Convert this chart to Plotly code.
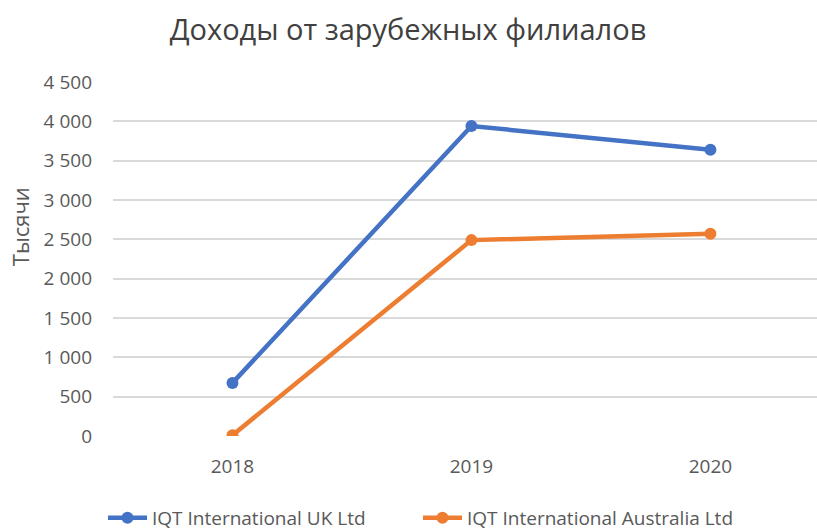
import plotly.graph_objects as go

years = ["2018", "2019", "2020"]
uk_values = [675, 3940, 3640]
au_values = [10, 2490, 2570]
series_names = ["IQT International UK Ltd", "IQT International Australia Ltd"]
title_text = "Доходы от зарубежных филиалов"
y_title = "Тысячи"

FONT = "Open Sans, sans-serif"
GREY = "#595959"

fig = go.Figure()
fig.add_trace(go.Scatter(x=years, y=uk_values, name=series_names[0], mode="lines+markers",
                         line=dict(color="#4472C4", width=4.5), marker=dict(size=12, color="#4472C4"),
                         legend="legend"))
fig.add_trace(go.Scatter(x=years, y=au_values, name=series_names[1], mode="lines+markers",
                         line=dict(color="#ED7D31", width=4.5), marker=dict(size=12, color="#ED7D31"),
                         legend="legend2"))

legend_common = dict(orientation="h", xref="container", yref="container",
                     xanchor="left", y=(530 - 518) / 530, yanchor="middle",
                     font=dict(size=19, color=GREY, family=FONT), itemwidth=39,
                     bgcolor="rgba(0,0,0,0)")

fig.update_layout(
    width=817, height=530,
    margin=dict(l=113, r=0, t=82, b=94),
    paper_bgcolor="white", plot_bgcolor="white",
    separators=", ",
    font=dict(family=FONT, color=GREY, size=15),
    title=dict(text=title_text, x=408/817, xanchor="center", y=1 - 30/530, yanchor="middle",
               xref="container", yref="container", font=dict(size=29, color="#404040", family=FONT)),
    showlegend=True,
    legend=dict(x=103/817, **legend_common),
    legend2=dict(x=418/817, **legend_common),
    xaxis=dict(type="category", range=[-0.5, 2.446], showgrid=False, showline=False, ticks="",
               tickfont=dict(size=19, color=GREY), ticklabelstandoff=17, zeroline=False,
               automargin=False),
    yaxis=dict(range=[0, 4500], dtick=500, tickformat=",d", showgrid=True, gridcolor="#d9d9d9",
               gridwidth=1.6, zeroline=False, showline=False, ticks="",
               tickfont=dict(size=19, color=GREY), ticklabelstandoff=20, automargin=False),
    annotations=[dict(text=y_title, xref="paper", yref="paper", x=-0.132, y=0.59,
                      xanchor="center", yanchor="middle", textangle=-90, showarrow=False,
                      font=dict(size=22, color=GREY))],
)

fig.write_html(
    "out.html",
    config={"displayModeBar": False},
    post_script="document.body.style.margin='0px'; document.body.style.overflow='hidden'; "
                "Plotly.relayout(document.getElementById('{plot_id}'), {width: 817, height: 530});",
)
